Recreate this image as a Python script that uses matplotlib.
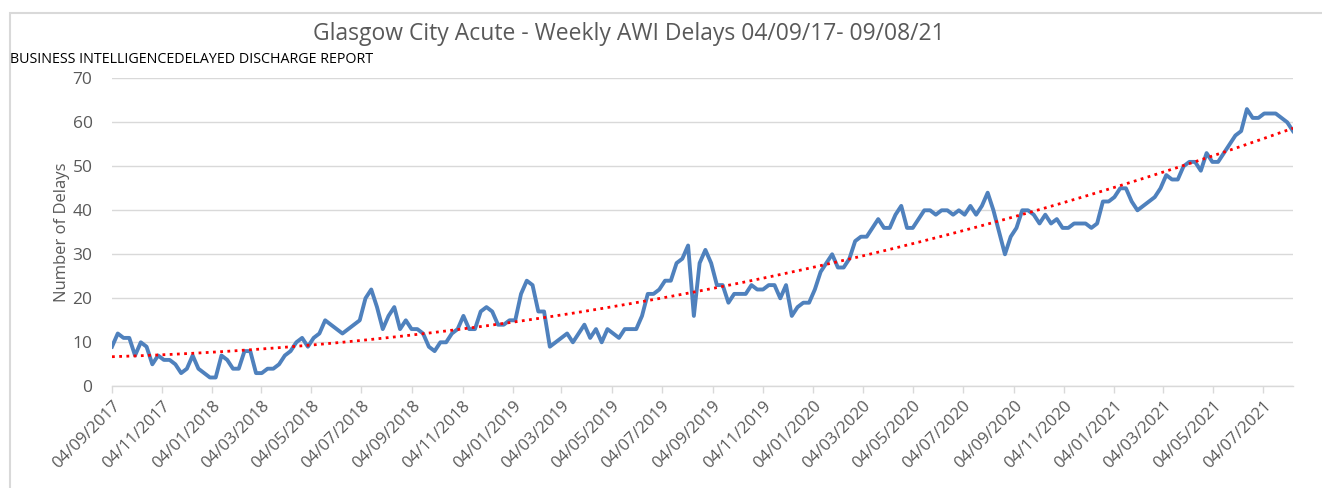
import numpy as np
import pandas as pd
import matplotlib
matplotlib.use("Agg")
import matplotlib.pyplot as plt
import matplotlib.dates as mdates
from matplotlib.patches import Rectangle

# weekly AWI delays, week starting 04/09/2017 .. 09/08/2021
delays = [
    9, 12, 11, 11, 7, 10, 9, 5, 7, 6,
    6, 5, 3, 4, 7, 4, 3, 2, 2, 7,
    6, 4, 4, 8, 8, 3, 3, 4, 4, 5,
    7, 8, 10, 11, 9, 11, 12, 15, 14, 13,
    12, 13, 14, 15, 20, 22, 18, 13, 16, 18,
    13, 15, 13, 13, 12, 9, 8, 10, 10, 12,
    13, 16, 13, 13, 17, 18, 17, 14, 14, 15,
    15, 21, 24, 23, 17, 17, 9, 10, 11, 12,
    10, 12, 14, 11, 13, 10, 13, 12, 11, 13,
    13, 13, 16, 21, 21, 22, 24, 24, 28, 29,
    32, 16, 28, 31, 28, 23, 23, 19, 21, 21,
    21, 23, 22, 22, 23, 23, 20, 23, 16, 18,
    19, 19, 22, 26, 28, 30, 27, 27, 29, 33,
    34, 34, 36, 38, 36, 36, 39, 41, 36, 36,
    38, 40, 40, 39, 40, 40, 39, 40, 39, 41,
    39, 41, 44, 40, 35, 30, 34, 36, 40, 40,
    39, 37, 39, 37, 38, 36, 36, 37, 37, 37,
    36, 37, 42, 42, 43, 45, 45, 42, 40, 41,
    42, 43, 45, 48, 47, 47, 50, 51, 51, 49,
    53, 51, 51, 53, 55, 57, 58, 63, 61, 61,
    62, 62, 62, 61, 60, 58,
]
weeks = pd.date_range("2017-09-04", periods=len(delays), freq="7D")
tick_dates = pd.date_range("2017-09-01", "2021-07-01", freq="2MS") + pd.Timedelta(days=3)

title = "Glasgow City Acute - Weekly AWI Delays 04/09/17- 09/08/21"
subtitle = "BUSINESS INTELLIGENCEDELAYED DISCHARGE REPORT"

grey = "#595959"
plt.rcParams["font.family"] = ["Open Sans", "DejaVu Sans"]

fig = plt.figure(figsize=(13.22, 4.88), dpi=100)
fig.patches.append(Rectangle((10 / 1322, -0.1), 1.2, 1 - 13 / 488 + 0.1,
                             transform=fig.transFigure, fill=False,
                             edgecolor="#d9d9d9", linewidth=1.5))
ax = fig.add_axes([112 / 1322, 1 - 386.3 / 488, (1293 - 112) / 1322, (386.3 - 78.3) / 488])

# 2nd order polynomial trend, as in the Excel chart
xn = np.arange(len(delays))
coef = np.polyfit(xn, delays, 2)
trend = np.polyval(coef, xn)

ax.plot(weeks, delays, color="#4f81bd", linewidth=2.8, solid_joinstyle="round", zorder=3)
ax.plot(weeks, trend, color="#ff0000", linewidth=2.0, linestyle=(0, (1, 1.6)), zorder=4)

ax.set_xlim(weeks[0], weeks[-1])
ax.set_ylim(0, 70)
ax.set_yticks(range(0, 71, 10))
ax.grid(axis="y", color="#d9d9d9", linewidth=1)
ax.set_axisbelow(True)
for s in ["left", "right", "top"]:
    ax.spines[s].set_visible(False)
ax.spines["bottom"].set_color("#d9d9d9")
ax.spines["bottom"].set_linewidth(1)

ax.set_xticks(tick_dates)
ax.xaxis.set_major_formatter(mdates.DateFormatter("%d/%m/%Y"))
ax.tick_params(axis="x", colors="#d9d9d9", length=5, width=1, labelcolor=grey, labelsize=12)
ax.tick_params(axis="y", length=0, labelcolor=grey, labelsize=12.5, pad=14)
for lab in ax.get_xticklabels():
    lab.set_rotation(45)
    lab.set_ha("right")
    lab.set_rotation_mode("anchor")

ax.set_ylabel("Number of Delays", color=grey, fontsize=12, labelpad=2)

fig.text(629 / 1322, 1 - 34 / 488, title, ha="center", va="center", color=grey, fontsize=16.5)
fig.text(10 / 1322, 1 - 59.5 / 488, subtitle, ha="left", va="center", color="black",
         fontsize=10.3)

fig.savefig("out.png", dpi=100)
